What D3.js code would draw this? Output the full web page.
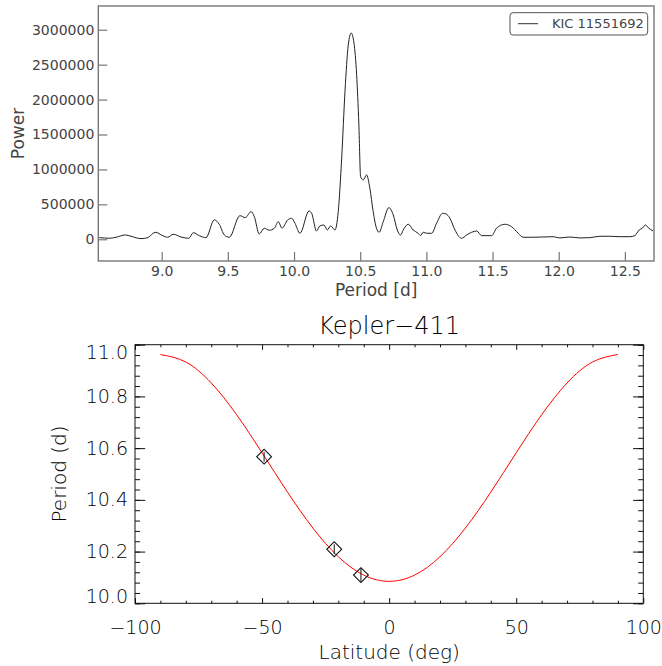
<!DOCTYPE html>
<html>
<head>
<meta charset="utf-8">
<script src="https://cdn.jsdelivr.net/npm/d3@7"></script>
<style>
  body { margin: 0; background: #fff; }
  svg { display: block; }
  .top text { font-family: "DejaVu Sans", sans-serif; fill: #444; }
  .bot text { font-family: "DejaVu Sans", sans-serif; font-weight: 200; fill: #000; }
</style>
</head>
<body>
<div id="chart"></div>
<script>
// periodogram (top panel)
var periods = [8.521, 8.529, 8.604, 8.655, 8.725, 8.768, 8.844, 8.894, 8.952, 9.008,
  9.045, 9.088, 9.146, 9.204, 9.239, 9.284, 9.335, 9.397, 9.435, 9.473,
  9.511, 9.591, 9.632, 9.675, 9.700, 9.737, 9.775, 9.813, 9.851, 9.881,
  9.909, 9.952, 9.982, 10.007, 10.045, 10.113, 10.133, 10.170, 10.195, 10.226,
  10.251, 10.277, 10.309, 10.334, 10.360, 10.385, 10.410, 10.432, 10.453, 10.473,
  10.490, 10.503, 10.523, 10.548, 10.573, 10.598, 10.623, 10.643, 10.674, 10.717,
  10.750, 10.780, 10.805, 10.825, 10.863, 10.900, 10.938, 10.956, 10.976, 11.002,
  11.040, 11.077, 11.123, 11.148, 11.178, 11.216, 11.266, 11.304, 11.342, 11.380,
  11.417, 11.493, 11.530, 11.593, 11.643, 11.694, 11.731, 11.807, 11.882, 11.958,
  12.008, 12.084, 12.160, 12.235, 12.311, 12.386, 12.462, 12.537, 12.575, 12.608,
  12.631, 12.656, 12.676, 12.713];
var power = [20000, 23000, 14000, 29000, 62000, 43000, 9000, 23000, 100000, 52000,
  29000, 72000, 33000, 14000, 95000, 52000, 23000, 277000, 215000, 62000,
  29000, 338000, 310000, 396000, 324000, 76000, 158000, 129000, 158000, 252000,
  158000, 277000, 301000, 229000, 86000, 405000, 372000, 119000, 191000, 205000,
  133000, 191000, 133000, 396000, 1161000, 2116000, 2785000, 2953000, 2809000, 2355000,
  1638000, 897000, 850000, 922000, 731000, 396000, 158000, 100000, 252000, 453000,
  348000, 133000, 60000, 133000, 215000, 133000, 86000, 52000, 100000, 86000,
  86000, 229000, 372000, 363000, 301000, 133000, 14000, 62000, 100000, 119000,
  52000, 52000, 158000, 215000, 181000, 86000, 29000, 29000, 33000, 37000,
  19000, 33000, 19000, 23000, 43000, 43000, 37000, 37000, 52000, 133000,
  158000, 205000, 166000, 119000];
var legendLabel = "KIC 11551692";
var periodTicks = [9.0, 9.5, 10.0, 10.5, 11.0, 11.5, 12.0, 12.5];
var powerTicks = [0, 500000, 1000000, 1500000, 2000000, 2500000, 3000000];

// differential rotation model (bottom panel)
var latitudes = [-90, -80, -70, -60, -50, -40, -30, -20, -10, 0, 10, 20, 30, 40, 50, 60, 70, 80, 90];
var modelPeriod = [10.962, 10.933, 10.852, 10.729, 10.582, 10.430, 10.291, 10.180, 10.109, 10.085,
  10.109, 10.180, 10.291, 10.430, 10.582, 10.729, 10.852, 10.933, 10.962];
var spotLat = [-49.2, -21.6, -11.1];
var spotPeriod = [10.567, 10.209, 10.109];
var spotErr = [0.019, 0.019, 0.025];
var latTicks = [-100, -50, 0, 50, 100];
var perTicks = [10.0, 10.2, 10.4, 10.6, 10.8, 11.0];

var W = 662, H = 666;
var svg = d3.select("#chart").append("svg")
    .attr("width", W)
    .attr("height", H);

// ---------- top panel ----------
var topPanel = svg.append("g").attr("class", "top");
var x1 = d3.scaleLinear().domain([8.521, 12.72]).range([98.3, 654]);
var y1 = d3.scaleLinear().domain([-311000, 3340000]).range([261, 6]);

topPanel.append("clipPath").attr("id", "clipTop")
  .append("rect")
    .attr("x", x1.range()[0]).attr("y", y1.range()[1])
    .attr("width", x1.range()[1] - x1.range()[0])
    .attr("height", y1.range()[0] - y1.range()[1]);

var spec = periods.map(function(p, i) { return [p, power[i]]; });
topPanel.append("path")
    .datum(spec)
    .attr("clip-path", "url(#clipTop)")
    .attr("fill", "none")
    .attr("stroke", "#222")
    .attr("stroke-width", 1)
    .attr("d", d3.line()
        .x(function(d) { return x1(d[0]); })
        .y(function(d) { return y1(d[1]); })
        .curve(d3.curveMonotoneX));

var xAxTop = topPanel.append("g")
    .attr("transform", "translate(0," + y1.range()[0] + ")")
    .call(d3.axisBottom(x1).tickValues(periodTicks).tickFormat(d3.format(".1f"))
        .tickSize(-9).tickPadding(5));
var yAxTop = topPanel.append("g")
    .attr("transform", "translate(" + x1.range()[0] + ",0)")
    .call(d3.axisLeft(y1).tickValues(powerTicks).tickFormat(d3.format("d"))
        .tickSize(-9).tickPadding(4));
[xAxTop, yAxTop].forEach(function(ax) {
  ax.select(".domain").remove();
  ax.selectAll("line").attr("stroke", "#777").attr("stroke-width", 1.2);
  ax.selectAll("text").style("font-size", "14px").attr("fill", "#444");
});

topPanel.append("rect")
    .attr("x", x1.range()[0]).attr("y", y1.range()[1])
    .attr("width", x1.range()[1] - x1.range()[0])
    .attr("height", y1.range()[0] - y1.range()[1])
    .attr("fill", "none")
    .attr("stroke", "#777")
    .attr("stroke-width", 1.4);

topPanel.append("text")
    .attr("x", (x1.range()[0] + x1.range()[1]) / 2)
    .attr("y", 295.5)
    .style("text-anchor", "middle")
    .style("font-size", "17px")
    .text("Period [d]");
topPanel.append("text")
    .attr("transform", "translate(24," + (y1.range()[0] + y1.range()[1]) / 2 + ") rotate(-90)")
    .style("text-anchor", "middle")
    .style("font-size", "17px")
    .text("Power");

// legend
var leg = topPanel.append("g").attr("transform", "translate(510,12.7)");
leg.append("rect")
    .attr("width", 137.7).attr("height", 22.3)
    .attr("rx", 3)
    .attr("fill", "#fff")
    .attr("stroke", "#555")
    .attr("stroke-width", 1);
leg.append("line")
    .attr("x1", 8).attr("x2", 28).attr("y1", 11).attr("y2", 11)
    .attr("stroke", "#333").attr("stroke-width", 1);
leg.append("text")
    .attr("x", 42).attr("y", 15.6)
    .style("font-size", "13px")
    .text(legendLabel);

// ---------- bottom panel ----------
var bot = svg.append("g").attr("class", "bot");
var x2 = d3.scaleLinear().domain([-100, 100]).range([135, 643.3]);
var y2 = d3.scaleLinear().domain([10.0, 11.0]).range([603.3, 344.7]);
var L = x2.range()[0], R = x2.range()[1], T = y2.range()[1], B = y2.range()[0];

var latMinor = d3.range(-100, 101, 10).filter(function(v) { return latTicks.indexOf(v) < 0; });
var perMinor = d3.range(0, 26).map(function(i) { return +(10 + i * 0.04).toFixed(2); });

function styleAxis(ax) {
  ax.select(".domain").remove();
  ax.selectAll("line").attr("stroke", "#111").attr("stroke-width", 1);
  ax.selectAll("text").style("font-size", "19px").attr("fill", "#000");
}

// major + minor ticks on all four sides, pointing inward
var xb = bot.append("g").attr("transform", "translate(0," + B + ")")
    .call(d3.axisBottom(x2).tickValues(latTicks).tickFormat(d3.format("d"))
        .tickSize(-5.2).tickPadding(17));
var xbm = bot.append("g").attr("transform", "translate(0," + B + ")")
    .call(d3.axisBottom(x2).tickValues(latMinor).tickFormat("").tickSize(-2.6));
var xt = bot.append("g").attr("transform", "translate(0," + T + ")")
    .call(d3.axisTop(x2).tickValues(latTicks).tickFormat("").tickSize(-5.2));
var xtm = bot.append("g").attr("transform", "translate(0," + T + ")")
    .call(d3.axisTop(x2).tickValues(latMinor).tickFormat("").tickSize(-2.6));
var yl = bot.append("g").attr("transform", "translate(" + L + ",0)")
    .call(d3.axisLeft(y2).tickValues(perTicks).tickFormat(d3.format(".1f"))
        .tickSize(-10.2).tickPadding(7));
var ylm = bot.append("g").attr("transform", "translate(" + L + ",0)")
    .call(d3.axisLeft(y2).tickValues(perMinor).tickFormat("").tickSize(-5.1));
var yr = bot.append("g").attr("transform", "translate(" + R + ",0)")
    .call(d3.axisRight(y2).tickValues(perTicks).tickFormat("").tickSize(-10.2));
var yrm = bot.append("g").attr("transform", "translate(" + R + ",0)")
    .call(d3.axisRight(y2).tickValues(perMinor).tickFormat("").tickSize(-5.1));
[xb, xbm, xt, xtm, yl, ylm, yr, yrm].forEach(styleAxis);

// end labels of the y axis sit a bit inside the frame
yl.selectAll(".tick text").attr("y", function(d) {
  if (d === 11.0) return 8;
  if (d === 10.0) return -6.6;
  return 0;
});

bot.append("rect")
    .attr("x", L).attr("y", T)
    .attr("width", R - L).attr("height", B - T)
    .attr("fill", "none")
    .attr("stroke", "#111")
    .attr("stroke-width", 1);

var model = latitudes.map(function(l, i) { return [l, modelPeriod[i]]; });
bot.append("path")
    .datum(model)
    .attr("fill", "none")
    .attr("stroke", "#ff0000")
    .attr("stroke-width", 1)
    .attr("d", d3.line()
        .x(function(d) { return x2(d[0]); })
        .y(function(d) { return y2(d[1]); })
        .curve(d3.curveNatural));

var spots = spotLat.map(function(l, i) { return { lat: l, p: spotPeriod[i], e: spotErr[i] }; });
var sym = d3.symbol().type(d3.symbolSquare).size(110);
var pts = bot.selectAll(".spot")
    .data(spots)
    .enter().append("g")
    .attr("class", "spot")
    .attr("transform", function(d) { return "translate(" + x2(d.lat) + "," + y2(d.p) + ")"; });
pts.append("path")
    .attr("d", sym)
    .attr("transform", "rotate(45)")
    .attr("fill", "none")
    .attr("stroke", "#111")
    .attr("stroke-width", 1.1);
pts.append("line")
    .attr("x1", 0).attr("x2", 0)
    .attr("y1", function(d) { return y2(d.p + d.e) - y2(d.p); })
    .attr("y2", function(d) { return y2(d.p - d.e) - y2(d.p); })
    .attr("stroke", "#111")
    .attr("stroke-width", 1);

bot.append("text")
    .attr("x", (L + R) / 2)
    .attr("y", 334.3)
    .style("text-anchor", "middle")
    .style("font-size", "24px")
    .text("Kepler\u2212411");
bot.append("text")
    .attr("x", (L + R) / 2)
    .attr("y", 659)
    .style("text-anchor", "middle")
    .style("font-size", "20px")
    .text("Latitude (deg)");
bot.append("text")
    .attr("transform", "translate(65.5," + (T + B) / 2 + ") rotate(-90)")
    .style("text-anchor", "middle")
    .style("font-size", "20px")
    .text("Period (d)");
</script>
</body>
</html>
